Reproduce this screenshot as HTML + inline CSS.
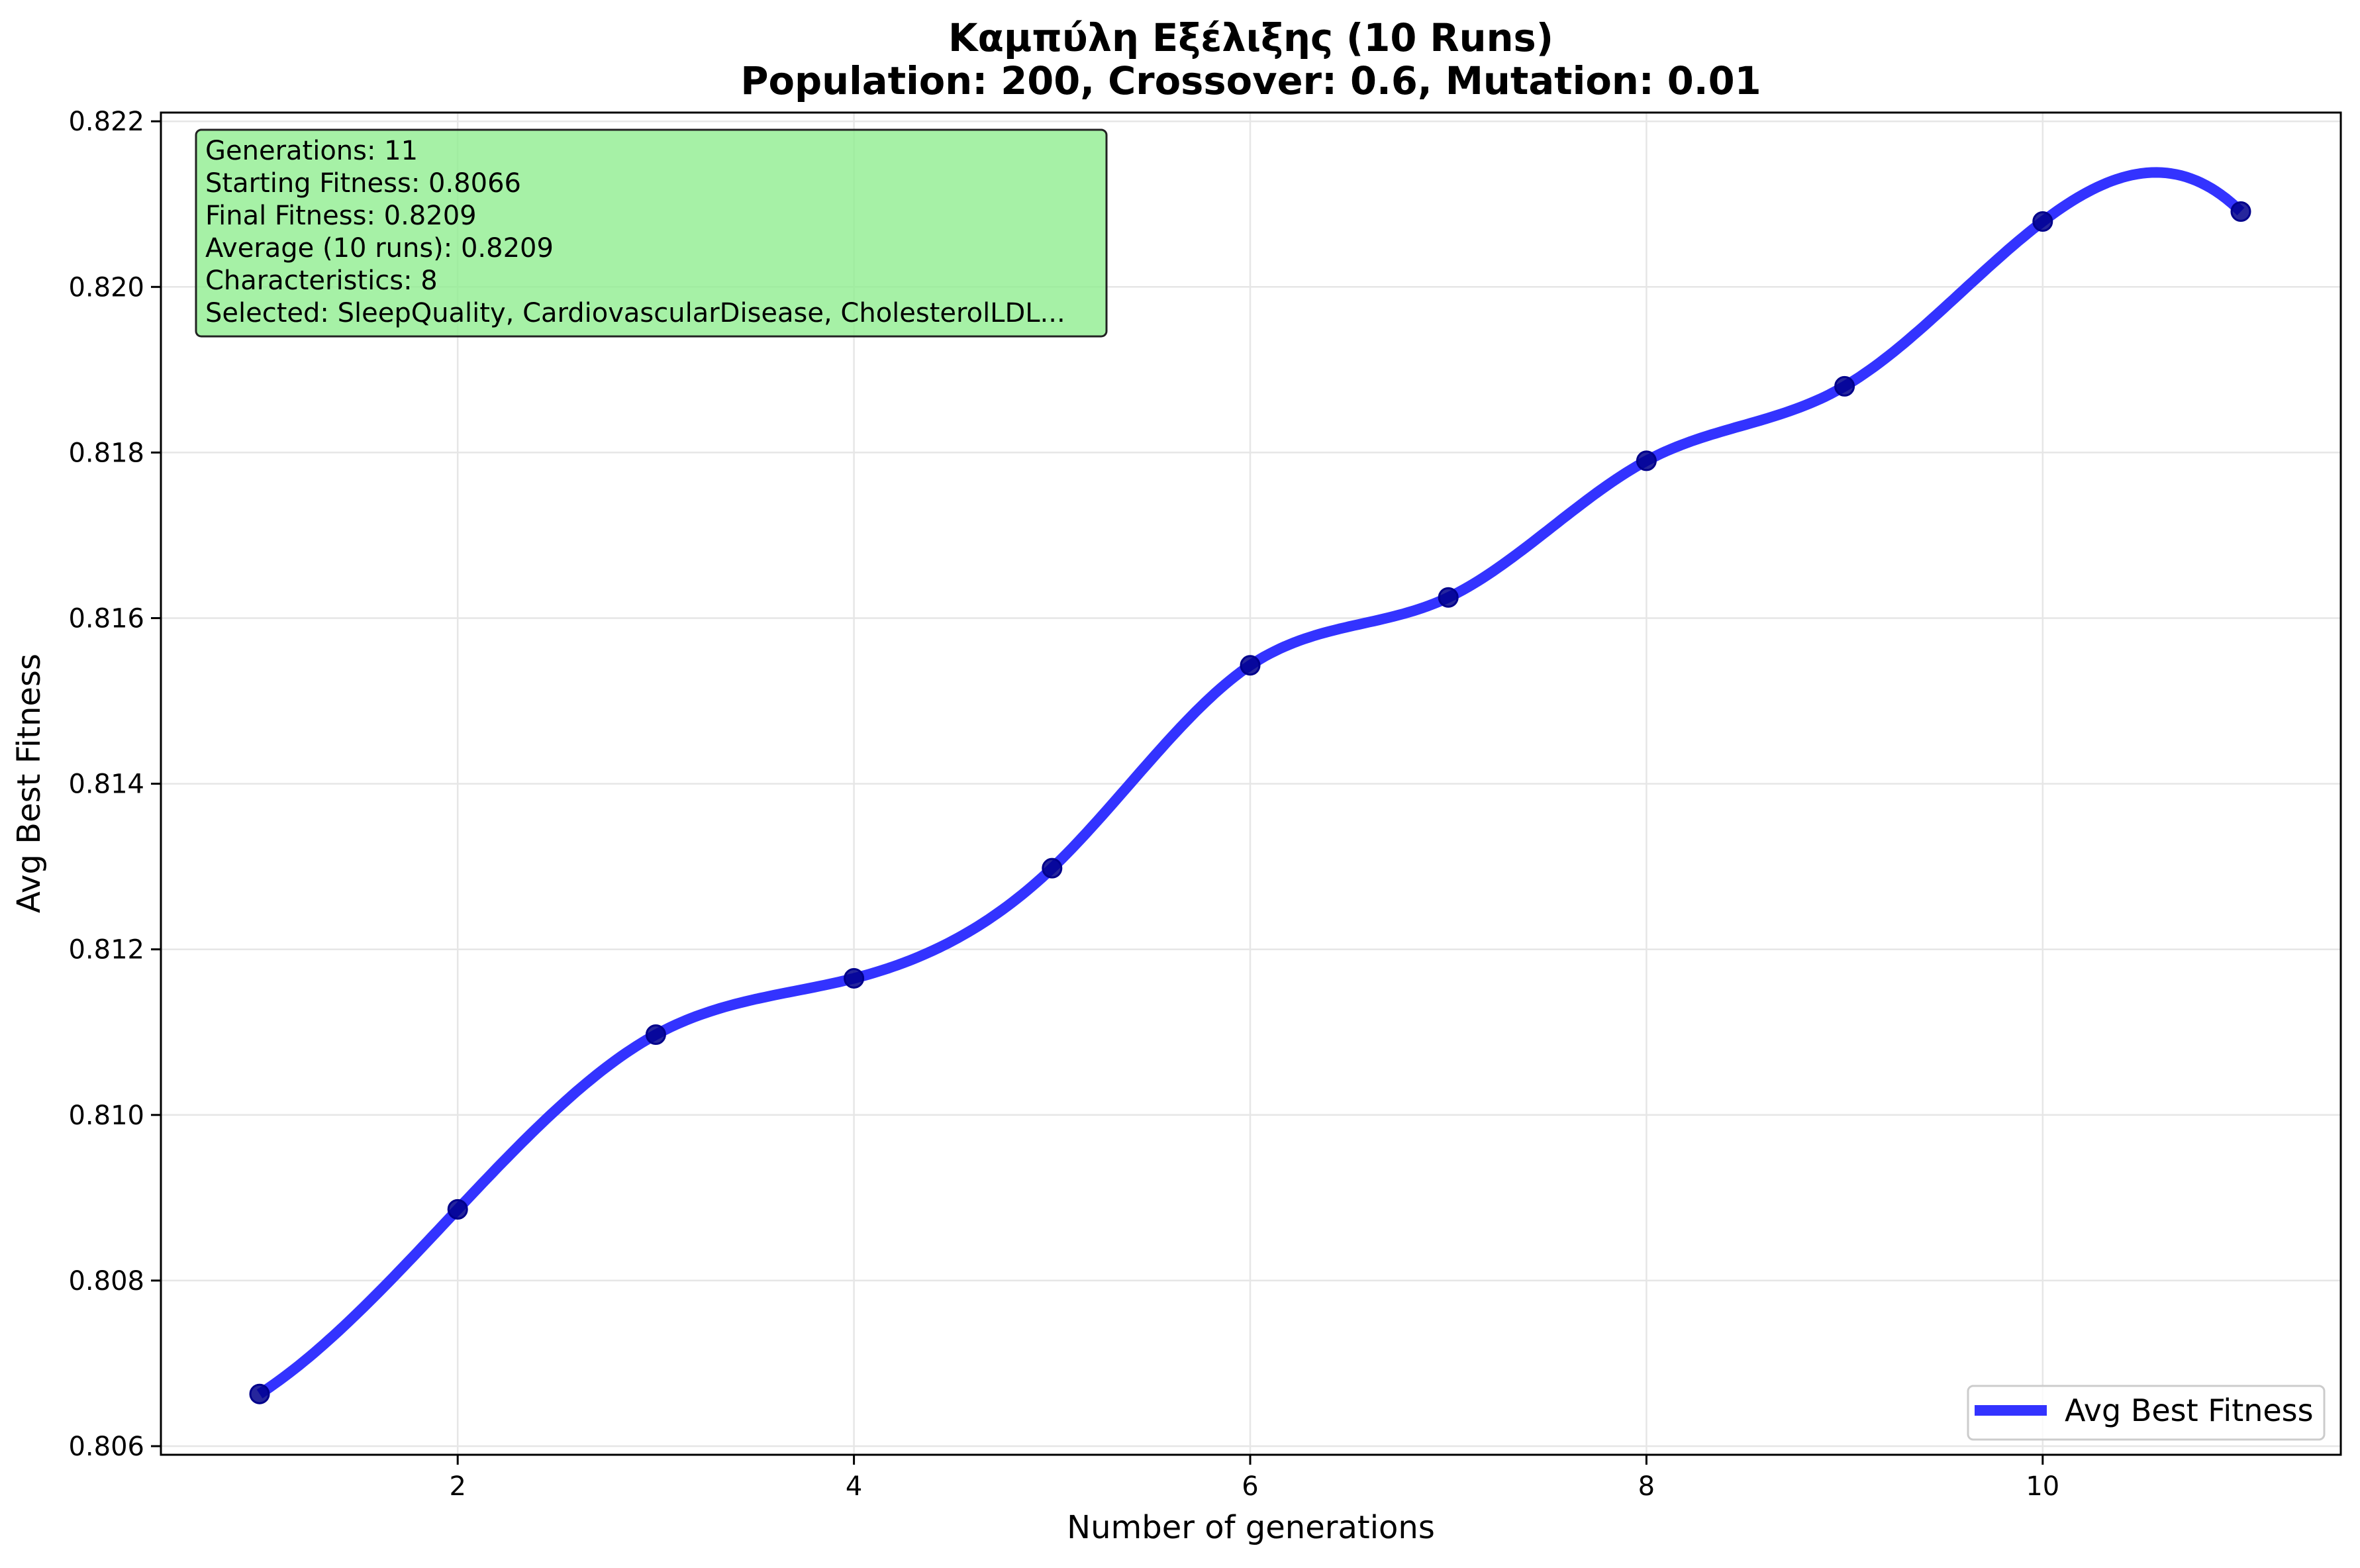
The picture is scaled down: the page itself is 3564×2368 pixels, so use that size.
<!DOCTYPE html>
<html><head><meta charset="utf-8"><style>
html,body{margin:0;padding:0;background:#fff;}
svg text{font-family:"DejaVu Sans","Liberation Sans",sans-serif;}
</style></head><body>
<svg id="chart" width="3564" height="2363" viewBox="0 0 3564 2363" xmlns="http://www.w3.org/2000/svg">
<rect width="3564" height="2363" fill="#fff"/>
<text x="1889" y="77" font-size="57.5" font-weight="bold" text-anchor="middle">Καμπύλη Εξέλιξης (10 Runs)</text>
<text x="1889" y="142" font-size="57.5" font-weight="bold" text-anchor="middle">Population: 200, Crossover: 0.6, Mutation: 0.01</text>
<g id="grid"></g>
<g id="ticks"></g>
<g id="series"></g>
<rect x="243" y="170" width="3292" height="2027" fill="none" stroke="#000" stroke-width="3"/>
<text x="1889" y="2323" font-size="48" text-anchor="middle">Number of generations</text>
<text transform="translate(60,1183) rotate(-90)" font-size="48" text-anchor="middle">Avg Best Fitness</text>
<g>
<rect x="296" y="196" width="1375" height="312" rx="8" fill="rgb(144,238,144)" fill-opacity="0.8" stroke="#222" stroke-width="3"/>
<text font-size="40" fill="#000">
<tspan x="310" y="241">Generations: 11</tspan>
<tspan x="310" y="290">Starting Fitness: 0.8066</tspan>
<tspan x="310" y="339">Final Fitness: 0.8209</tspan>
<tspan x="310" y="388">Average (10 runs): 0.8209</tspan>
<tspan x="310" y="437">Characteristics: 8</tspan>
<tspan x="310" y="486">Selected: SleepQuality, CardiovascularDisease, CholesterolLDL...</tspan>
</text>
</g>
<g>
<rect x="2972" y="2093" width="538" height="81" rx="8" fill="#fff" fill-opacity="0.8" stroke="#ccc" stroke-width="3"/>
<line x1="2982" y1="2130" x2="3091" y2="2130" stroke="rgb(51,51,255)" stroke-width="16"/>
<text x="3118" y="2146" font-size="46">Avg Best Fitness</text>
</g>
</svg>
<script>
const generations = [1,2,3,4,5,6,7,8,9,10,11];
const fitness = [0.80663,0.80886,0.81097,0.81165,0.81298,0.81543,0.81625,0.81790,0.81880,0.82079,0.82091];
const xTicks = [2,4,6,8,10];
const yTicks = [0.806,0.808,0.810,0.812,0.814,0.816,0.818,0.820,0.822];

const NS="http://www.w3.org/2000/svg";
const X0=243,X1=3535,Y0=170,Y1=2197;
function sx(v){return 392+(v-1)*299.2;}
function sy(v){return 2184-(v-0.806)*125050;}
function mk(tag,attrs,parent){const e=document.createElementNS(NS,tag);for(const k in attrs)e.setAttribute(k,attrs[k]);parent.appendChild(e);return e;}
const grid=document.getElementById('grid'),ticks=document.getElementById('ticks'),series=document.getElementById('series');
xTicks.forEach(t=>{
  const x=sx(t);
  const g=mk('line',{x1:x,y1:Y0,x2:x,y2:Y1,stroke:'#e6e6e6','stroke-width':2.5},grid);
  
  
  mk('line',{x1:x,y1:Y1,x2:x,y2:Y1+15,stroke:'#000','stroke-width':3},ticks);
  const l=mk('text',{x:x,y:2258,'font-size':40,'text-anchor':'middle'},ticks);
  l.textContent=t;
  
  
});
yTicks.forEach(t=>{
  const y=sy(t);
  const g=mk('line',{x1:X0,y1:y,x2:X1,y2:y,stroke:'#e6e6e6','stroke-width':2.5},grid);
  
  
  mk('line',{x1:X0-15,y1:y,x2:X0,y2:y,stroke:'#000','stroke-width':3},ticks);
  const l=mk('text',{x:X0-25,y:y+14,'font-size':40,'text-anchor':'end'},ticks);
  l.textContent=t.toFixed(3);
  
  
});
// not-a-knot cubic spline (second derivatives M)
const n=generations.length;
const h=[];for(let i=0;i<n-1;i++)h.push(generations[i+1]-generations[i]);
const A=[],B=[];
for(let r=0;r<n;r++){A.push(new Array(n).fill(0));B.push(0);}
A[0][0]=-1/h[0];A[0][1]=1/h[0]+1/h[1];A[0][2]=-1/h[1];
for(let i=1;i<n-1;i++){A[i][i-1]=h[i-1];A[i][i]=2*(h[i-1]+h[i]);A[i][i+1]=h[i];
  B[i]=6*((fitness[i+1]-fitness[i])/h[i]-(fitness[i]-fitness[i-1])/h[i-1]);}
A[n-1][n-3]=-1/h[n-3];A[n-1][n-2]=1/h[n-3]+1/h[n-2];A[n-1][n-1]=-1/h[n-2];
for(let c=0;c<n;c++){let p=c;for(let r=c+1;r<n;r++)if(Math.abs(A[r][c])>Math.abs(A[p][c]))p=r;
  [A[c],A[p]]=[A[p],A[c]];[B[c],B[p]]=[B[p],B[c]];
  for(let r=c+1;r<n;r++){const f=A[r][c]/A[c][c];for(let k=c;k<n;k++)A[r][k]-=f*A[c][k];B[r]-=f*B[c];}}
const M=new Array(n).fill(0);
for(let r=n-1;r>=0;r--){let s=B[r];for(let k=r+1;k<n;k++)s-=A[r][k]*M[k];M[r]=s/A[r][r];}
let pts=[];
for(let i=0;i<n-1;i++){const hi=h[i],xa=generations[i],xb=generations[i+1];
  for(let k=0;k<40;k++){const t=xa+k/40*hi;
    const v=M[i]*Math.pow(xb-t,3)/(6*hi)+M[i+1]*Math.pow(t-xa,3)/(6*hi)+(fitness[i]/hi-M[i]*hi/6)*(xb-t)+(fitness[i+1]/hi-M[i+1]*hi/6)*(t-xa);
    pts.push(sx(t).toFixed(1)+','+sy(v).toFixed(1));}}
pts.push(sx(generations[n-1]).toFixed(1)+','+sy(fitness[n-1]).toFixed(1));
const line=mk('polyline',{points:pts.join(' '),fill:'none',stroke:'rgb(51,51,255)','stroke-width':16,'stroke-linejoin':'round'},series);


generations.forEach((g,i)=>{
  const p=mk('circle',{cx:sx(g),cy:sy(fitness[i]),r:14,fill:'#00008b','fill-opacity':0.85,stroke:'#00008b','stroke-width':3},series);
  
  
});
</script>
</body></html>
